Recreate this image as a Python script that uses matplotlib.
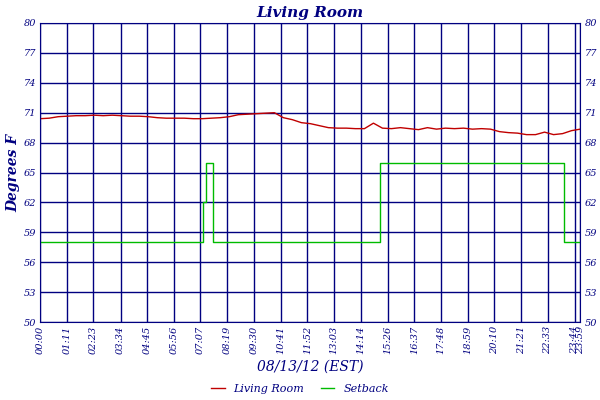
import matplotlib
matplotlib.use("Agg")
import matplotlib.pyplot as plt
import numpy as np

minutes = list(range(0, 1440, 24)) + [1439]
room = [70.4,70.45,70.6,70.65,70.7,70.7,70.75,70.7,70.75,70.7,70.65,70.65,70.6,70.5,70.45,70.45,
        70.45,70.4,70.4,70.45,70.5,70.6,70.8,70.85,70.9,70.95,71.0,70.5,70.3,70.0,69.9,69.7,
        69.5,69.45,69.45,69.4,69.4,69.95,69.45,69.4,69.5,69.4,69.3,69.5,69.35,69.45,69.4,69.45,
        69.35,69.4,69.35,69.1,69.0,68.95,68.8,68.8,69.05,68.8,68.9,69.2,69.35]
sb_min = [0, 435, 441, 460, 906, 1395, 1439]
sb_val = [58, 62, 66, 58, 66, 58, 58]
xtick_min = [round(i*1424/20) for i in range(21)] + [1439]
xtick_lab = ["00:00","01:11","02:23","03:34","04:45","05:56","07:07","08:19","09:30","10:41","11:52",
             "13:03","14:14","15:26","16:37","17:48","18:59","20:10","21:21","22:33","23:44","23:59"]
yticks = [50,53,56,59,62,65,68,71,74,77,80]

navy = "#000080"
ff = "DejaVu Serif"
fig = plt.figure(figsize=(6,4), dpi=100)
ax = fig.add_axes([0.067, 0.195, 0.9, 0.7475])
ax.plot(minutes, room, color="#c00000", lw=1, label="Living Room")
ax.plot(sb_min, sb_val, color="#00bb00", lw=1, drawstyle="steps-post", label="Setback")
ax.set_xlim(0, 1439); ax.set_ylim(50, 80)
ax.set_xticks(xtick_min); ax.set_xticklabels(xtick_lab, rotation=90, fontsize=7, color=navy, style="italic", family=ff)
ax.set_yticks(yticks); ax.set_yticklabels(yticks, fontsize=7, color=navy, style="italic", family=ff)
ax.tick_params(length=0, pad=3)
ax.tick_params(axis="y", right=True, labelright=True)
ax.grid(True, color=navy, lw=1)
for s in ax.spines.values():
    s.set_color(navy)
ax.set_title("Living Room", fontsize=11, color=navy, style="italic", weight="bold", family=ff, pad=4)
ax.set_ylabel("Degrees F", fontsize=10, color=navy, style="italic", weight="bold", family=ff, labelpad=2)
ax.set_xlabel("08/13/12 (EST)", fontsize=10, color=navy, style="italic", family=ff, labelpad=4)
fig.legend(loc="lower center", bbox_to_anchor=(0.5, -0.01), ncol=2, frameon=False,
           prop={"family": ff, "style": "italic", "size": 8}, labelcolor=navy, handlelength=1.2, columnspacing=1.5)
fig.savefig("out.png", dpi=100)
